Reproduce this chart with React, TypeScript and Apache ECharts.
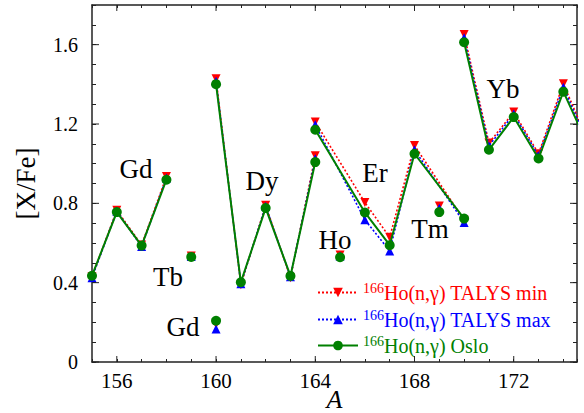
import React, { useEffect, useRef } from "react";
import * as echarts from "echarts";

// Gd chain (A = 155-158)
const gdA = [155, 156, 157, 158];
const gdMin = [0.43, 0.765, 0.59, 0.935];
const gdMax = [0.425, 0.76, 0.582, 0.928];
const gdOslo = [0.435, 0.756, 0.587, 0.919];
// Tb (A = 159)
const tbA = [159];
const tbMin = [0.535];
const tbMax = [0.532];
const tbOslo = [0.53];
// Gd (A = 160)
const gd160A = [160];
const gd160Min = [0.19];
const gd160Max = [0.167];
const gd160Oslo = [0.208];
// Dy chain
const dyA = [160, 161, 162, 163, 164];
const dyMin = [1.428, 0.39, 0.79, 0.425, 1.04];
const dyMax = [1.415, 0.395, 0.785, 0.43, 1.025];
const dyOslo = [1.401, 0.402, 0.776, 0.434, 1.008];
// Ho (A = 165)
const hoA = [165];
const hoMin = [0.54];
const hoMax = [0.535];
const hoOslo = [0.528];
// Er chain
const erA = [164, 166, 167, 168, 170];
const erMin = [1.21, 0.804, 0.629, 1.092, 0.715];
const erMax = [1.196, 0.717, 0.56, 1.07, 0.703];
const erOslo = [1.171, 0.754, 0.589, 1.05, 0.723];
// Tm (A = 169)
const tmA = [169];
const tmMin = [0.787];
const tmMax = [0.775];
const tmOslo = [0.756];
// Yb chain
const ybA = [170, 171, 172, 173, 174, 175];
const ybMin = [1.651, 1.104, 1.26, 1.05, 1.403, 1.11];
const ybMax = [1.635, 1.09, 1.25, 1.04, 1.385, 1.1];
const ybOslo = [1.612, 1.07, 1.235, 1.026, 1.363, 1.09];

const xTicks = [156, 160, 164, 168, 172];
const yTicks = [0, 0.4, 0.8, 1.2, 1.6];

const NAME_MIN = "min";
const NAME_MAX = "max";
const NAME_OSLO = "oslo";

const RED = "#ff0000";
const BLUE = "#0000ff";
const GREEN = "#008000";
const FONT = "Liberation Serif";
const AXIS_COLOR = "#222";

const groups = [
  { a: gdA, min: gdMin, max: gdMax, oslo: gdOslo },
  { a: tbA, min: tbMin, max: tbMax, oslo: tbOslo },
  { a: gd160A, min: gd160Min, max: gd160Max, oslo: gd160Oslo },
  { a: dyA, min: dyMin, max: dyMax, oslo: dyOslo },
  { a: hoA, min: hoMin, max: hoMax, oslo: hoOslo },
  { a: erA, min: erMin, max: erMax, oslo: erOslo },
  { a: tmA, min: tmMin, max: tmMax, oslo: tmOslo },
  { a: ybA, min: ybMin, max: ybMax, oslo: ybOslo },
];

const labels = [
  { t: "Gd", x: 136, y: 169 },
  { t: "Tb", x: 168, y: 277 },
  { t: "Gd", x: 183, y: 327 },
  { t: "Dy", x: 262, y: 181 },
  { t: "Ho", x: 335, y: 240 },
  { t: "Er", x: 375, y: 173 },
  { t: "Tm", x: 430, y: 229 },
  { t: "Yb", x: 503, y: 89 },
];

export default function App() {
  const ref = useRef<HTMLDivElement>(null);
  useEffect(() => {
    if (!ref.current) return;
    const chart = echarts.init(ref.current, undefined, { renderer: "svg" });
    const series: any[] = [];
    const mk = (name: string, a: number[], v: number[], kind: string) => {
      const data = a.map((x, i) => [x, v[i]]);
      if (kind === "min") {
        return {
          type: "line", name, data, xAxisIndex: 0, yAxisIndex: 0,
          symbol: "triangle", symbolRotate: 180, symbolSize: 9,
          itemStyle: { color: RED },
          lineStyle: { color: RED, width: 1.6, type: [2, 2] },
          z: 2,
        };
      }
      if (kind === "max") {
        return {
          type: "line", name, data, xAxisIndex: 0, yAxisIndex: 0,
          symbol: "triangle", symbolSize: 9,
          itemStyle: { color: BLUE },
          lineStyle: { color: BLUE, width: 1.6, type: [2, 2] },
          z: 3,
        };
      }
      return {
        type: "line", name, data, xAxisIndex: 0, yAxisIndex: 0,
        symbol: "circle", symbolSize: 10,
        itemStyle: { color: GREEN },
        lineStyle: { color: GREEN, width: 2 },
        z: 4,
      };
    };
    groups.forEach((g) => series.push(mk(NAME_MIN, g.a, g.min, "min")));
    groups.forEach((g) => series.push(mk(NAME_MAX, g.a, g.max, "max")));
    groups.forEach((g) => series.push(mk(NAME_OSLO, g.a, g.oslo, "oslo")));

    const legendText: Record<string, string> = {
      [NAME_MIN]: "{s|166}{m|Ho(n,γ) TALYS min}",
      [NAME_MAX]: "{s|166}{m|Ho(n,γ) TALYS max}",
      [NAME_OSLO]: "{s|166}{m|Ho(n,γ) Oslo}",
    };
    const rich = {
      s: { fontSize: 14, lineHeight: 14, fontFamily: FONT, padding: [0, 0, 9, 0] },
      m: { fontSize: 20, lineHeight: 22, fontFamily: FONT },
    };
    const mkLegend = (name: string, color: string, top: number) => ({
      orient: "vertical",
      left: 312,
      top,
      itemWidth: 40,
      itemHeight: 12,
      itemGap: 0,
      formatter: (n: string) => legendText[n],
      data: [{ name, textStyle: { color, rich } }],
      textStyle: { fontFamily: FONT, fontSize: 20, color, rich },
    });

    const axisCommon = {
      axisLine: { show: true, onZero: false, lineStyle: { color: AXIS_COLOR, width: 1.5 } },
      splitLine: { show: false },
    };

    const textGraphics: any[] = labels.map((l) => ({
      type: "text",
      x: l.x,
      y: l.y,
      style: {
        text: l.t,
        fill: "#000",
        fontSize: 27,
        fontFamily: FONT,
        textAlign: "center",
        textVerticalAlign: "middle",
      },
      z: 10,
    }));

    chart.setOption({
      animation: false,
      grid: { left: 92, right: 7, top: 5, bottom: 51, containLabel: false, outerBoundsMode: "none" },
      legend: [
        mkLegend(NAME_MIN, RED, 276),
        mkLegend(NAME_MAX, BLUE, 303),
        mkLegend(NAME_OSLO, GREEN, 329),
      ],
      xAxis: [
        {
          type: "value", min: 155, max: 174.55, interval: 1, position: "bottom",
          ...axisCommon,
          axisTick: { show: true, inside: true, length: 3, lineStyle: { color: AXIS_COLOR } },
          axisLabel: {
            show: true, color: "#000", fontFamily: FONT, fontSize: 21, margin: 8,
            formatter: (v: number) => (xTicks.includes(v) ? String(v) : ""),
          },
          name: "A", nameLocation: "middle", nameGap: 24, nameMoveOverlap: false,
          nameTextStyle: { fontFamily: FONT, fontSize: 26, fontStyle: "italic", color: "#000" },
        },
        {
          type: "value", min: 155, max: 174.55, interval: 1, position: "top",
          ...axisCommon,
          axisTick: { show: true, inside: true, length: 3, lineStyle: { color: AXIS_COLOR } },
          axisLabel: { show: false },
        },
      ],
      yAxis: [
        {
          type: "value", min: 0, max: 1.8, interval: 0.1, position: "left",
          ...axisCommon,
          axisTick: { show: true, inside: true, length: 4, lineStyle: { color: AXIS_COLOR } },
          axisLabel: {
            show: true, color: "#000", fontFamily: FONT, fontSize: 20, margin: 14,
            formatter: (v: number) => {
              const hit = yTicks.find((t) => Math.abs(t - v) < 1e-6);
              return hit === undefined ? "" : hit === 0 ? "0" : hit.toFixed(1);
            },
          },
          name: "[X/Fe]", nameLocation: "middle", nameGap: 53, nameRotate: 90, nameMoveOverlap: false,
          nameTextStyle: { fontFamily: FONT, fontSize: 27, color: "#000" },
        },
        {
          type: "value", min: 0, max: 1.8, interval: 0.1, position: "right",
          ...axisCommon,
          axisTick: { show: true, inside: true, length: 4, lineStyle: { color: AXIS_COLOR } },
          axisLabel: { show: false },
        },
      ],
      graphic: textGraphics,
      series,
    });

    // longer major ticks, positioned through the axes' own scales
    const tickLines: any[] = [];
    const y0 = chart.convertToPixel({ yAxisIndex: 0 }, 0) as number;
    const yTop = chart.convertToPixel({ yAxisIndex: 0 }, 1.8) as number;
    const xLeft = chart.convertToPixel({ xAxisIndex: 0 }, 155) as number;
    const xRight = chart.convertToPixel({ xAxisIndex: 0 }, 174.55) as number;
    const ls = { stroke: AXIS_COLOR, lineWidth: 1 };
    xTicks.forEach((v) => {
      const px = chart.convertToPixel({ xAxisIndex: 0 }, v) as number;
      tickLines.push({ type: "line", shape: { x1: px, y1: y0, x2: px, y2: y0 - 6 }, style: ls, z: 5, silent: true });
      tickLines.push({ type: "line", shape: { x1: px, y1: yTop, x2: px, y2: yTop + 6 }, style: ls, z: 5, silent: true });
    });
    yTicks.forEach((v) => {
      const py = chart.convertToPixel({ yAxisIndex: 0 }, v) as number;
      tickLines.push({ type: "line", shape: { x1: xLeft, y1: py, x2: xLeft + 7, y2: py }, style: ls, z: 5, silent: true });
      tickLines.push({ type: "line", shape: { x1: xRight, y1: py, x2: xRight - 7, y2: py }, style: ls, z: 5, silent: true });
    });
    chart.setOption({ graphic: [...textGraphics, ...tickLines] });

    return () => chart.dispose();
  }, []);
  return <div ref={ref} style={{ width: 584, height: 413, position: "absolute", left: 0, top: 0 }} />;
}
